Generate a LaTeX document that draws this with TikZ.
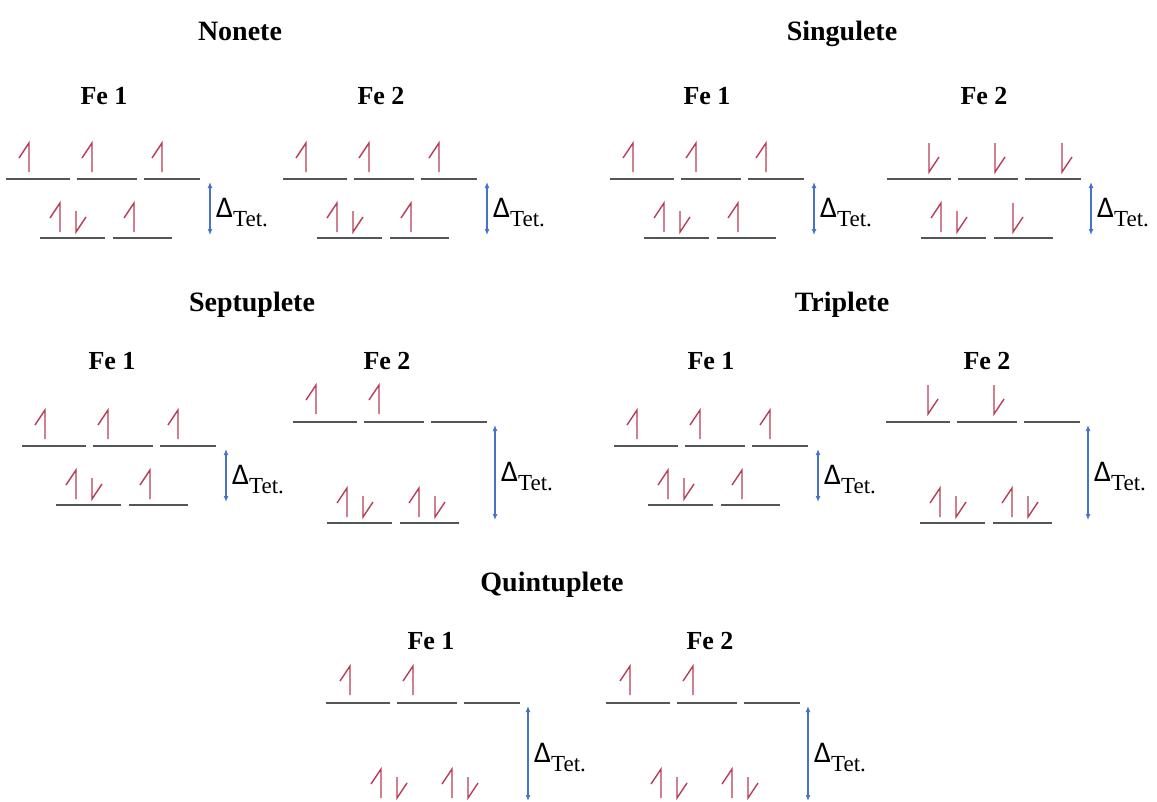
\documentclass[tikz,border=0pt]{standalone}
\usepackage{fontspec}
\setmainfont{Liberation Serif}
\newfontfamily\deltafont{Carlito}
\usetikzlibrary{arrows.meta}

\definecolor{spinred}{RGB}{185,60,85}
\definecolor{levelgray}{RGB}{85,85,85}
\definecolor{gapblue}{RGB}{70,115,200}

% the three upper d levels (t2) and the two lower ones (e)
\newcommand{\uplevels}{%
  \draw[level] (0,0) -- (64,0);
  \draw[level] (71,0) -- (131,0);
  \draw[level] (138,0) -- (194,0);}
\newcommand{\lowlevels}[1]{%
  \draw[level] (34,#1) -- (99,#1);
  \draw[level] (107,#1) -- (166,#1);}
% splitting arrow; #1 = gap, #2 = x of the arrow
\newcommand{\tetgap}[2]{%
  \coordinate (gtop) at (#2,3);
  \coordinate (gbot) at (#2,#1-3);
  \draw[gap] (gtop) -- (gbot);
  \node[delta] (dlabel) at (#2+6,#1/2+9)
    {{\deltafont\fontsize{30}{30}\selectfont Δ}\raisebox{-9pt}{\fontsize{23}{23}\selectfont Tet.}};}
% electrons
\newcommand{\spinup}[2]{\draw[spin] (#1,#2) -- ++(0,-29) -- ++(-10,15);}
\newcommand{\spindown}[3][29]{\draw[spin] (#2,#3-#1) -- (#2,#3) -- ++(10,-15);}

\begin{document}
\begin{tikzpicture}[x=1pt,y=-1pt,
  title/.style={anchor=base, inner sep=0pt, font=\bfseries\fontsize{28}{28}\selectfont},
  felabel/.style={anchor=base, inner sep=0pt, font=\bfseries\fontsize{26}{26}\selectfont},
  level/.style={levelgray, line width=1.5pt},
  gap/.style={gapblue, line width=1.2pt, {Latex[length=6pt,width=5pt]}-{Latex[length=6pt,width=5pt]}},
  spin/.style={spinred, line width=1.4pt, line join=miter},
  delta/.style={anchor=base west, inner sep=0pt}]
\useasboundingbox (0,0) rectangle (1157,801);

% titles
\node[title] (nonete) at (240,40) {Nonete};
\node[title] (singulete) at (842,40) {Singulete};
\node[title] (septuplete) at (252,311) {Septuplete};
\node[title] (triplete) at (842,311) {Triplete};
\node[title] (quintuplete) at (552,591) {Quintuplete};

\node[felabel] (nfe1) at (104,104) {Fe 1};
\node[felabel] (nfe2) at (381,104) {Fe 2};
\node[felabel] (sfe1) at (707,104) {Fe 1};
\node[felabel] (sfe2) at (984,104) {Fe 2};
\node[felabel] (pfe1) at (112,369) {Fe 1};
\node[felabel] (pfe2) at (387,369) {Fe 2};
\node[felabel] (tfe1) at (711,369) {Fe 1};
\node[felabel] (tfe2) at (987,369) {Fe 2};
\node[felabel] (qfe1) at (431,649) {Fe 1};
\node[felabel] (qfe2) at (710,649) {Fe 2};

% Nonete
\begin{scope}[shift={(6,179)}]
  \uplevels \lowlevels{59} \tetgap{59}{204}
  \spinup{23}{-7} \spinup{86}{-7} \spinup{156}{-7}
  \spinup{54}{53} \spindown[21]{70}{53} \spinup{128}{53}
\end{scope}
\begin{scope}[shift={(283,179)}]
  \uplevels \lowlevels{59} \tetgap{59}{204}
  \spinup{23}{-7} \spinup{86}{-7} \spinup{156}{-7}
  \spinup{54}{53} \spindown[21]{70}{53} \spinup{128}{53}
\end{scope}

% Singulete
\begin{scope}[shift={(610,179)}]
  \uplevels \lowlevels{59} \tetgap{59}{204}
  \spinup{23}{-7} \spinup{86}{-7} \spinup{156}{-7}
  \spinup{54}{53} \spindown[21]{70}{53} \spinup{128}{53}
\end{scope}
\begin{scope}[shift={(887,179)}]
  \uplevels \lowlevels{59} \tetgap{59}{204}
  \spindown{42}{-7} \spindown{108}{-7} \spindown{175}{-7}
  \spinup{54}{53} \spindown[21]{70}{53} \spindown{126}{53}
\end{scope}

% Septuplete
\begin{scope}[shift={(22,446)}]
  \uplevels \lowlevels{59} \tetgap{59}{204}
  \spinup{23}{-7} \spinup{86}{-7} \spinup{156}{-7}
  \spinup{54}{53} \spindown[21]{70}{53} \spinup{128}{53}
\end{scope}
\begin{scope}[shift={(293,422)}]
  \uplevels \lowlevels{101} \tetgap{101}{202}
  \spinup{23}{-8} \spinup{86}{-8}
  \spinup{54}{95} \spindown[21]{70}{95}
  \spinup{126}{95} \spindown[21]{142}{95}
\end{scope}

% Triplete
\begin{scope}[shift={(614,446)}]
  \uplevels \lowlevels{59} \tetgap{59}{204}
  \spinup{23}{-7} \spinup{86}{-7} \spinup{156}{-7}
  \spinup{54}{53} \spindown[21]{70}{53} \spinup{128}{53}
\end{scope}
\begin{scope}[shift={(886,422)}]
  \uplevels \lowlevels{101} \tetgap{101}{202}
  \spindown{42}{-8} \spindown{108}{-8}
  \spinup{54}{95} \spindown[21]{70}{95}
  \spinup{126}{95} \spindown[21]{142}{95}
\end{scope}

% Quintuplete (lower levels fall below the picture)
\begin{scope}[shift={(326,703)}]
  \uplevels \tetgap{101}{202}
  \spinup{24}{-8} \spinup{87}{-8}
  \spinup{55}{95} \spindown[21]{71}{95}
  \spinup{126}{95} \spindown[21]{142}{95}
\end{scope}
\begin{scope}[shift={(606,703)}]
  \uplevels \tetgap{101}{202}
  \spinup{24}{-8} \spinup{87}{-8}
  \spinup{55}{95} \spindown[21]{71}{95}
  \spinup{126}{95} \spindown[21]{142}{95}
\end{scope}
\end{tikzpicture}
\end{document}
